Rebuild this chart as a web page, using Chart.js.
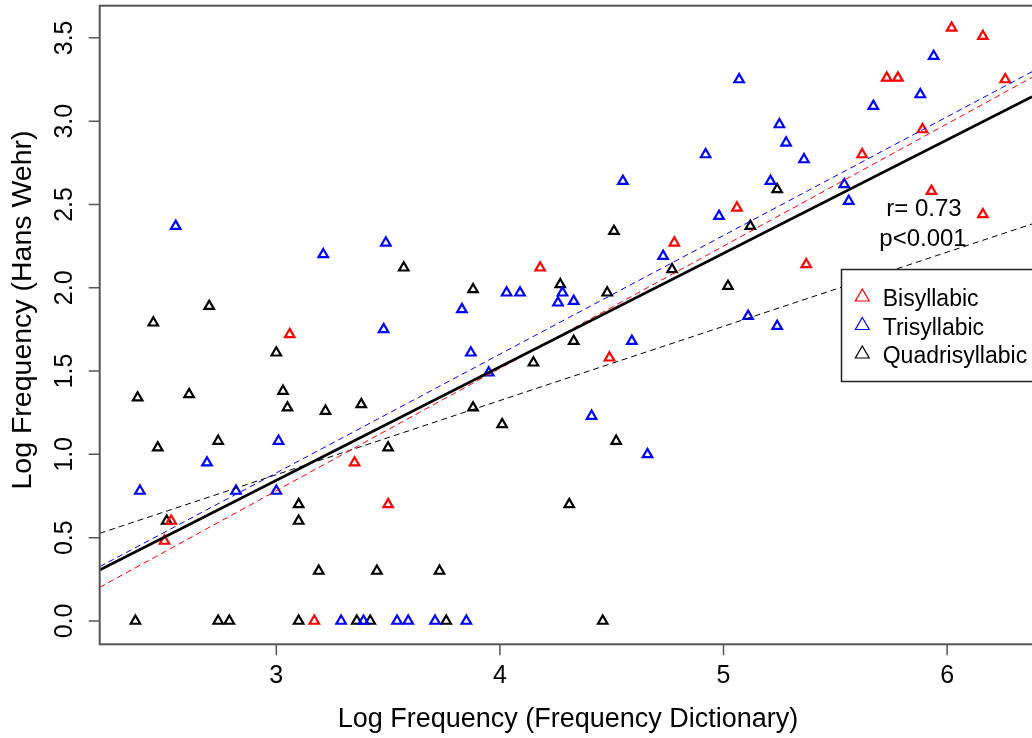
<!DOCTYPE html>
<html>
<head>
<meta charset="utf-8">
<title>Log Frequency scatter</title>
<script src="https://cdn.jsdelivr.net/npm/chart.js@4.4.1/dist/chart.umd.min.js"></script>
<style>
  html, body { margin: 0; padding: 0; background: #fff; overflow: hidden; }
  #wrap { width: 1032px; height: 738px; }
</style>
</head>
<body>
<div id="wrap"><canvas id="chart" width="1032" height="738"></canvas></div>
<script>
// values
const biX = [3.06, 3.35, 3.50, 2.53, 2.50, 3.17, 4.18, 4.49, 4.78, 6.02, 6.16, 5.73, 5.78, 6.26, 5.89, 5.62, 5.93, 6.16, 5.06, 5.37];
const biY = [1.72, 0.95, 0.70, 0.60, 0.48, 0.00, 2.12, 1.58, 2.27, 3.56, 3.51, 3.26, 3.26, 3.25, 2.95, 2.80, 2.58, 2.44, 2.48, 2.14];

const triX = [2.55, 3.21, 3.49, 3.48, 3.01, 2.69, 2.39, 2.82, 3.00, 3.29, 3.39, 3.54, 3.59, 3.71, 3.85,
              4.66, 4.41, 3.95, 3.87, 4.59, 3.83, 4.26, 4.33, 4.03, 4.09, 4.28, 4.55, 4.92, 4.73, 5.07,
              5.94, 5.88, 5.67, 5.25, 5.28, 5.36, 5.21, 5.54, 5.56, 4.98, 5.11, 5.24];
const triY = [2.37, 2.20, 2.27, 1.75, 1.08, 0.95, 0.78, 0.78, 0.78, 0.00, 0.00, 0.00, 0.00, 0.00, 0.00,
              1.00, 1.23, 1.49, 1.61, 1.68, 1.87, 1.91, 1.92, 1.97, 1.97, 1.97, 2.64, 2.80, 2.19, 3.25,
              3.39, 3.16, 3.09, 2.98, 2.87, 2.77, 2.64, 2.62, 2.52, 2.43, 1.83, 1.77];

const quadX = [3.57, 2.70, 2.45, 3.00, 2.38, 2.61, 3.03, 3.05, 3.22, 3.38, 2.47, 2.74, 3.50, 3.10, 2.51,
               3.10, 3.19, 3.45, 3.73, 4.31, 4.52, 4.01, 3.88, 4.15, 4.33, 3.88, 4.27, 4.48, 4.51, 4.77,
               5.24, 5.12, 5.02, 2.37, 2.74, 2.79, 3.10, 3.36, 3.42, 3.76, 4.46];
const quadY = [2.12, 1.89, 1.79, 1.61, 1.34, 1.36, 1.38, 1.28, 1.26, 1.30, 1.04, 1.08, 1.04, 0.70, 0.60,
               0.60, 0.30, 0.30, 0.30, 0.70, 1.08, 1.18, 1.28, 1.55, 1.68, 1.99, 2.02, 1.97, 2.34, 2.11,
               2.59, 2.37, 2.01, 0.00, 0.00, 0.00, 0.00, 0.00, 0.00, 0.00, 0.00];

// fitted lines, read at the left and right edge of the plot
const fitX = [2.21, 6.38];
const fitAllY = [0.306, 3.147];
const fitBiY = [0.202, 3.263];
const fitTriY = [0.326, 3.297];
const fitQuadY = [0.526, 2.383];

const xTicks = [3, 4, 5, 6];
const yTicks = [0, 0.5, 1, 1.5, 2, 2.5, 3, 3.5];
const yTickLabels = ['0.0', '0.5', '1.0', '1.5', '2.0', '2.5', '3.0', '3.5'];

const seriesNames = ['Bisyllabic', 'Trisyllabic', 'Quadrisyllabic'];
const seriesColors = ['#ff0000', '#0000ff', '#000000'];
const statLines = ['r= 0.73', 'p<0.001'];

const FONT = '"Liberation Sans", Arial, sans-serif';

function zip(xs, ys) {
  return xs.map((x, i) => ({ x: x, y: ys[i] }));
}

function pointSet(label, xs, ys, color) {
  return {
    type: 'scatter',
    label: label,
    data: zip(xs, ys),
    pointStyle: 'triangle',
    pointRadius: 5.5,
    borderWidth: 2.2,
    borderColor: color,
    backgroundColor: 'rgba(0,0,0,0)',
    order: 2
  };
}

function lineSet(ys, color, width, dash) {
  return {
    type: 'line',
    data: zip(fitX, ys),
    borderColor: color,
    borderWidth: width,
    borderDash: dash,
    pointRadius: 0,
    fill: false,
    order: 1
  };
}

function drawText(ctx, str, x, y, size, align, rotate) {
  ctx.save();
  ctx.translate(x, y);
  if (rotate) ctx.rotate(rotate);
  ctx.font = size + 'px ' + FONT;
  ctx.fillStyle = '#000';
  ctx.textAlign = align || 'center';
  ctx.textBaseline = 'alphabetic';
  ctx.fillText(str, 0, 0);
  ctx.restore();
}

function triangle(ctx, x, y, r) {
  ctx.beginPath();
  ctx.moveTo(x, y - r);
  ctx.lineTo(x + r * Math.sqrt(3) / 2, y + r / 2);
  ctx.lineTo(x - r * Math.sqrt(3) / 2, y + r / 2);
  ctx.closePath();
  ctx.stroke();
}

// R style box, ticks, labels, legend and text
const baseGraphics = {
  id: 'baseGraphics',
  afterDraw(chart) {
    const ctx = chart.ctx;
    const area = chart.chartArea;
    const xs = chart.scales.x;
    const ys = chart.scales.y;

    ctx.save();
    ctx.strokeStyle = '#555';
    ctx.lineWidth = 2;
    ctx.strokeRect(area.left, area.top, area.right - area.left + 20, area.bottom - area.top);

    ctx.lineWidth = 1.5;
    ctx.beginPath();
    xTicks.forEach(v => {
      const px = xs.getPixelForValue(v);
      ctx.moveTo(px, area.bottom);
      ctx.lineTo(px, area.bottom + 11);
    });
    yTicks.forEach(v => {
      const py = ys.getPixelForValue(v);
      ctx.moveTo(area.left, py);
      ctx.lineTo(area.left - 11, py);
    });
    ctx.stroke();

    xTicks.forEach(v => drawText(ctx, String(v), xs.getPixelForValue(v), area.bottom + 39, 25));
    yTicks.forEach((v, i) => drawText(ctx, yTickLabels[i], area.left - 28, ys.getPixelForValue(v), 25, 'center', -Math.PI / 2));

    drawText(ctx, 'Log Frequency (Frequency Dictionary)', 568, 727, 27);
    drawText(ctx, 'Log Frequency (Hans Wehr)', 31, 310, 28.5, 'center', -Math.PI / 2);

    // correlation text
    drawText(ctx, statLines[0], 924, 216, 24);
    drawText(ctx, statLines[1], 923, 246, 24);

    // legend
    const lx = 841.5, ly = 269.5;
    ctx.fillStyle = '#fff';
    ctx.fillRect(lx, ly, 220, 112);
    ctx.strokeStyle = '#222';
    ctx.lineWidth = 1.5;
    ctx.strokeRect(lx, ly, 220, 112);
    seriesNames.forEach((name, i) => {
      const base = 306 + i * 28.5;
      ctx.strokeStyle = seriesColors[i];
      ctx.lineWidth = 1.2;
      triangle(ctx, 862.3, base - 9, 8);
      drawText(ctx, name, 882.7, base, 23, 'left');
    });
    ctx.restore();
  }
};

new Chart(document.getElementById('chart'), {
  data: {
    datasets: [
      lineSet(fitAllY, '#000', 2.6, []),
      lineSet(fitBiY, '#ff0000', 1, [6, 4]),
      lineSet(fitTriY, '#0000ff', 1, [6, 4]),
      lineSet(fitQuadY, '#000', 1, [6, 4]),
      pointSet(seriesNames[0], biX, biY, seriesColors[0]),
      pointSet(seriesNames[1], triX, triY, seriesColors[1]),
      pointSet(seriesNames[2], quadX, quadY, seriesColors[2])
    ]
  },
  options: {
    responsive: false,
    animation: false,
    devicePixelRatio: 1,
    events: [],
    layout: { autoPadding: false, padding: { left: 99.7, top: 5.7, right: 0, bottom: 93.7 } },
    scales: {
      x: { type: 'linear', min: 2.2102, max: 6.3797, display: false },
      y: { type: 'linear', min: -0.140, max: 3.693, display: false }
    },
    plugins: {
      legend: { display: false },
      tooltip: { enabled: false }
    }
  },
  plugins: [baseGraphics]
});
</script>
</body>
</html>
